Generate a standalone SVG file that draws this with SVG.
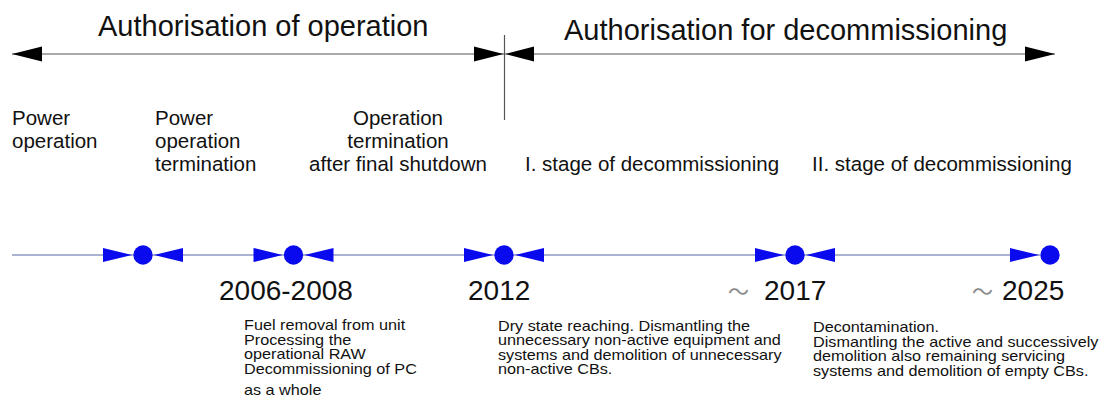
<svg xmlns="http://www.w3.org/2000/svg" xmlns:xlink="http://www.w3.org/1999/xlink" width="1108" height="409" viewBox="0 0 1108 409">
<style>
text{font-family:"Liberation Sans",Arial,sans-serif;fill:#111}
.title{font-size:29px}
.phase{font-size:20.5px}
.year{font-size:28px}
.desc{font-size:15px}
.tilde{font-family:"Noto Sans CJK SC","Noto Sans CJK JP",sans-serif;font-size:21px;fill:#8a8a8a}
.dim{stroke:#555;stroke-width:1.2;fill:none}
.tl{stroke:#5866a6;stroke-width:1.2;fill:none}
.ah{fill:#000}
.mk{fill:#0a0aee}
</style>
<defs>
<g id="ms">
<polygon class="mk" points="-40,-7 -11,0 -40,7"/>
<circle class="mk" cx="0" cy="0" r="9.7"/>
<polygon class="mk" points="40,-7 11,0 40,7"/>
</g>
<g id="msEnd">
<polygon class="mk" points="-40,-7 -11,0 -40,7"/>
<circle class="mk" cx="0" cy="0" r="9.7"/>
</g>
</defs>
<rect width="1108" height="409" fill="#fff"/>
<g id="connectors">
<line class="dim" x1="12" y1="54" x2="1055" y2="54"/>
<line class="dim" x1="504.5" y1="35" x2="504.5" y2="120"/>
<polygon class="ah" points="12,54 42,46.5 42,61.5"/>
<polygon class="ah" points="503.5,54 474,46.5 474,61.5"/>
<polygon class="ah" points="505.5,54 534,46.5 534,61.5"/>
<polygon class="ah" points="1055,54 1025,46.5 1025,61.5"/>
<line class="tl" x1="12" y1="255" x2="1040" y2="255"/>
</g>
<g id="auth-operation"><text class="title" x="98" y="36">Authorisation of operation</text></g>
<g id="auth-decommissioning"><text class="title" x="564" y="40">Authorisation for decommissioning</text></g>
<g id="phase-power-operation">
<text class="phase" x="12" y="125">Power</text>
<text class="phase" x="12" y="148">operation</text>
</g>
<g id="phase-power-termination">
<text class="phase" x="155" y="125">Power</text>
<text class="phase" x="155" y="148">operation</text>
<text class="phase" x="155" y="171">termination</text>
</g>
<g id="phase-operation-termination" text-anchor="middle">
<text class="phase" x="398" y="125">Operation</text>
<text class="phase" x="398" y="148">termination</text>
<text class="phase" x="398" y="171">after final shutdown</text>
</g>
<g id="phase-stage1"><text class="phase" x="525" y="171">I. stage of decommissioning</text></g>
<g id="phase-stage2"><text class="phase" x="812" y="171">II. stage of decommissioning</text></g>
<g id="m-power-operation"><use xlink:href="#ms" x="143" y="255"/></g>
<g id="m-2006-2008">
<use xlink:href="#ms" x="293.5" y="255"/>
<text class="year" x="219" y="300">2006-2008</text>
<g transform="translate(244,0) scale(1.08,1)">
<text class="desc" x="0" y="330">Fuel removal from unit</text>
<text class="desc" x="0" y="345">Processing the</text>
<text class="desc" x="0" y="359.5">operational RAW</text>
<text class="desc" x="0" y="374">Decommissioning of PC</text>
<text class="desc" x="0" y="395">as a whole</text>
</g>
</g>
<g id="m-2012">
<use xlink:href="#ms" x="504" y="255"/>
<text class="year" x="468" y="300">2012</text>
<g transform="translate(498,0) scale(1.08,1)">
<text class="desc" x="0" y="331">Dry state reaching. Dismantling the</text>
<text class="desc" x="0" y="345.5">unnecessary non-active equipment and</text>
<text class="desc" x="0" y="360">systems and demolition of unnecessary</text>
<text class="desc" x="0" y="374.5">non-active CBs.</text>
</g>
</g>
<g id="m-2017">
<use xlink:href="#ms" x="795" y="255"/>
<text class="tilde" x="728" y="299">〜</text>
<text class="year" x="764" y="300">2017</text>
<g transform="translate(813,0) scale(1.08,1)">
<text class="desc" x="0" y="332">Decontamination.</text>
<text class="desc" x="0" y="347">Dismantling the active and successively</text>
<text class="desc" x="0" y="361.5">demolition also remaining servicing</text>
<text class="desc" x="0" y="376">systems and demolition of empty CBs.</text>
</g>
</g>
<g id="m-2025">
<use xlink:href="#msEnd" x="1050" y="255"/>
<text class="tilde" x="972" y="299">〜</text>
<text class="year" x="1002" y="300">2025</text>
</g>
</svg>
